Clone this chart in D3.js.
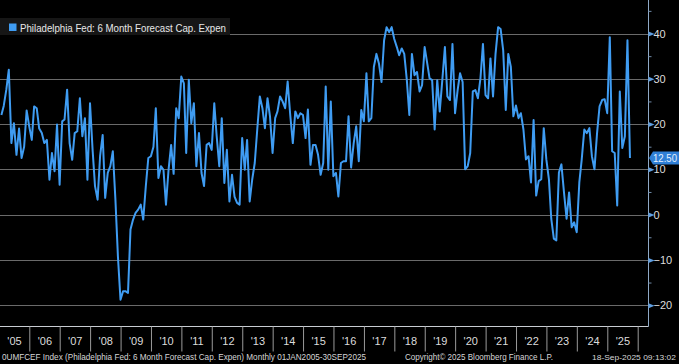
<!DOCTYPE html>
<html>
<head>
<meta charset="utf-8">
<script src="https://cdn.jsdelivr.net/npm/d3@7"></script>
<style>
  html, body { margin: 0; padding: 0; background: #000; }
  svg { display: block; }
  text { font-family: "Liberation Sans", Arial, sans-serif; }
</style>
</head>
<body>
<div id="chart"></div>
<script>
// Philadelphia Fed: 6 Month Forecast Cap. Expen, monthly Jan 2005 - Sep 2025
var startYear = 2005, startMonth = 0;
var capexValues = [
  22, 24, 27.6, 32, 15.8, 20.2, 13.2, 19, 12.5, 15,
  23, 19.5, 16.5, 23.9, 23.5, 19, 18, 15.8, 16.5, 7.7,
  13.6, 9.6, 19.9, 6.6, 20.6, 21, 27.6, 15.8, 12.1, 18,
  18.4, 25.7, 17.3, 21.3, 7.7, 24.6, 14.3, 6.3, 3.3, 12.9,
  17.6, 3.7, 9.2, 10.7, 14, 3.3, -9.2, -18.8, -16.9, -16.9,
  -17.3, -3.3, -1.1, 0.4, 1.1, 2.2, -1.1, 6.3, 12.5, 12.9,
  15, 23.5, 8.1, 10.7, 9.9, 2.2, 9.9, 15.4,
  9, 23.5, 21.3, 30.5, 29, 13.6, 29.8, 20.2, 24.6, 10.7,
  18, 9.2, 6.3, 15.4, 15.8, 14.3, 24.6, 17.3, 10.7, 21.3,
  7, 14.3, 2.9, 8.8, 4, 2.6, 2.2, 16.9, 9.9, 16.5,
  2.9, 7.7, 11.4, 18.8, 26.1, 23.5, 19.1, 25.7, 21.7, 13.6,
  21.3, 22.8, 26.1, 25, 23.5, 29.4, 22, 15.8, 22.8, 21.3,
  22.4, 22, 16.9, 23.2, 11, 15.4, 15.4, 13.2, 8.8, 11.4,
  28.3, 9.9, 25, 8.5, 9.2, 4, 11.4,
  11.8, 11.8, 21.7, 10.4, 15.8, 19.5, 11.8, 23.1, 20.6, 31.2,
  20.6, 21.3, 32.6, 35.5, 33.4, 29.3, 38.5, 41.4, 40.3, 41.4,
  38.8, 37, 35.2, 36.7, 35.5, 29.7, 22, 35.5, 30.8, 31.5,
  27.2, 28.6, 37, 33.4, 30.1, 29.7, 18.8, 29.7, 22.8, 29.7,
  37, 26.1, 25.3, 37.7, 22.4, 27.5, 31.2, 29.3, 10, 10.7,
  13.6, 27.2, 27.5, 25.7, 30.1, 37.7, 26.4, 25.7, 34.5, 26.1,
  35.5, 41.4, 41, 36.3, 23.1, 35.5, 32.6, 21.7, 24.1, 21.3,
  22.4, 18.8, 12.2, 12.9, 7.1, 20.9, 4.2, 7.4, 7.8, 19.1,
  12.2, 7.8, -0.9, -5.3, -5.7, 9.3, 11.1, 4.9, -0.9, 4.9,
  -2.8, -1.7, -3.9, 7.1, 12.2, 18.8, 18, 19.1, 12.9, 10,
  18, 23.9, 25.3, 25.5, 22.4, 39.2, 14, 13.6, 2, 27.2,
  14.7, 17.3, 38.5, 12.5
];
var yTicks = [-20, -10, 0, 10, 20, 30, 40];
var yMinorTicks = [-15, -5, 5, 15, 25, 35, 45];
var yearLabels = ["'05", "'06", "'07", "'08", "'09", "'10", "'11", "'12", "'13", "'14",
                  "'15", "'16", "'17", "'18", "'19", "'20", "'21", "'22", "'23", "'24", "'25"];
var legendLabel = "Philadelphia Fed: 6 Month Forecast Cap. Expen";
var lastLabel = "12.50";
var footerLeft = "0UMFCEF Index (Philadelphia Fed: 6 Month Forecast Cap. Expen)  Monthly 01JAN2005-30SEP2025";
var footerMid = "Copyright\u00a9 2025 Bloomberg Finance L.P.";
var footerRight = "18-Sep-2025 09:13:02";

var W = 679, H = 364;
var plotRight = 648, plotBottom = 326;
var lineColor = "#3f9cf2";

// monthly points sit at month end
var data = capexValues.map(function (v, i) {
    return { date: new Date(startYear, startMonth + i + 1, 0), value: v };
});

var x = d3.scaleTime()
    .domain([new Date(2005, 0, 1), new Date(2026, 0, 1)])
    .range([-1.1, 637.7]);
var y = d3.scaleLinear()
    .domain([-24.6, 47.4])
    .range([plotBottom, 0]);

var svg = d3.select("#chart").append("svg")
    .attr("width", W)
    .attr("height", H);

svg.append("rect").attr("width", W).attr("height", H).attr("fill", "#000");

// gridlines
svg.append("g")
    .selectAll("line")
    .data(yTicks)
    .join("line")
    .attr("x1", 0).attr("x2", plotRight)
    .attr("y1", function (d) { return Math.round(y(d)) + 0.5; })
    .attr("y2", function (d) { return Math.round(y(d)) + 0.5; })
    .attr("stroke", "#6a6a6a")
    .attr("stroke-width", 1);

// frame
svg.append("line")
    .attr("x1", 0).attr("x2", plotRight + 0.5)
    .attr("y1", plotBottom + 0.5).attr("y2", plotBottom + 0.5)
    .attr("stroke", "#c8ccd2");

// series line
var line = d3.line()
    .x(function (d) { return x(d.date); })
    .y(function (d) { return y(d.value); });

svg.append("path")
    .datum(data)
    .attr("fill", "none")
    .attr("stroke", lineColor)
    .attr("stroke-width", 2)
    .attr("stroke-linejoin", "round")
    .attr("d", line);

// right axis
var yAxis = d3.axisRight(y).tickValues(yTicks).tickSize(6).tickPadding(2)
    .tickFormat(d3.format("d"));
var gy = svg.append("g")
    .attr("transform", "translate(" + (plotRight + 0.5) + ",0)")
    .call(yAxis);
gy.select(".domain").attr("stroke", "#8fa9c6").attr("d", "M0,0V" + (plotBottom + 0.5));
gy.selectAll(".tick line").remove();
gy.selectAll(".tick").append("path")
    .attr("d", "M0,-2.5L6,0L0,2.5Z")
    .attr("fill", "#5f9ee0");
gy.selectAll(".tick text")
    .attr("x", 5)
    .attr("fill", "#dcdcdc")
    .style("font-size", "11px");

svg.append("g")
    .attr("transform", "translate(" + (plotRight + 0.5) + ",0)")
    .call(d3.axisRight(y).tickValues(yMinorTicks).tickSize(3).tickFormat(""))
    .call(function (g) {
        g.select(".domain").remove();
        g.selectAll(".tick line").attr("stroke", "#6f8aa8");
    });

// bottom axis: year separators + centred labels
var yearStarts = d3.range(2006, 2027).map(function (yr) { return new Date(yr, 0, 1); });
var yearMids = d3.range(2005, 2026).map(function (yr) { return new Date(yr, 6, 1); });

svg.append("g")
    .attr("transform", "translate(0," + (plotBottom + 0.5) + ")")
    .call(d3.axisBottom(x).tickValues(yearStarts).tickSize(25).tickFormat(""))
    .call(function (g) {
        g.select(".domain").remove();
        g.selectAll(".tick line").attr("stroke", "#9a9a9a");
    });

svg.append("g")
    .attr("transform", "translate(0," + (plotBottom + 0.5) + ")")
    .call(d3.axisBottom(x).tickValues(yearMids).tickSize(0).tickPadding(11)
        .tickFormat(function (d, i) { return yearLabels[i]; }))
    .call(function (g) {
        g.select(".domain").remove();
        g.selectAll(".tick text")
            .attr("fill", "#dcdcdc")
            .style("font-size", "11px");
    });

// legend
svg.append("rect")
    .attr("x", 0).attr("y", 18).attr("width", 230).attr("height", 17)
    .attr("fill", "#161616");
svg.append("rect")
    .attr("x", 9).attr("y", 23.5).attr("width", 7.5).attr("height", 7.5)
    .attr("fill", lineColor);
svg.append("text")
    .attr("x", 20).attr("y", 31.5)
    .attr("fill", "#e8e8e8")
    .style("font-size", "10.5px")
    .attr("textLength", 206)
    .attr("lengthAdjust", "spacingAndGlyphs")
    .text(legendLabel);

// last value marker
var lastY = y(capexValues[capexValues.length - 1]);
svg.append("path")
    .attr("d", "M" + (plotRight + 1) + "," + lastY +
        "L" + (plotRight + 5) + "," + (lastY - 6.5) +
        "H" + W + "V" + (lastY + 6.5) +
        "H" + (plotRight + 5) + "Z")
    .attr("fill", "#2f7fd6");
svg.append("text")
    .attr("x", plotRight + 5).attr("y", lastY + 4)
    .attr("fill", "#e4f1ff")
    .style("font-size", "10px")
    .attr("textLength", 24)
    .attr("lengthAdjust", "spacingAndGlyphs")
    .text(lastLabel);

// footer
var footer = svg.append("g").attr("fill", "#d6d6d6").style("font-size", "9px");
footer.append("text").attr("x", 2).attr("y", 360)
    .attr("textLength", 364).attr("lengthAdjust", "spacingAndGlyphs")
    .text(footerLeft);
footer.append("text").attr("x", 405).attr("y", 360)
    .attr("textLength", 148).attr("lengthAdjust", "spacingAndGlyphs")
    .text(footerMid);
footer.append("text").attr("x", 676).attr("y", 360)
    .attr("text-anchor", "end")
    .style("font-size", "8px")
    .attr("textLength", 84).attr("lengthAdjust", "spacingAndGlyphs")
    .text(footerRight);
</script>
</body>
</html>
